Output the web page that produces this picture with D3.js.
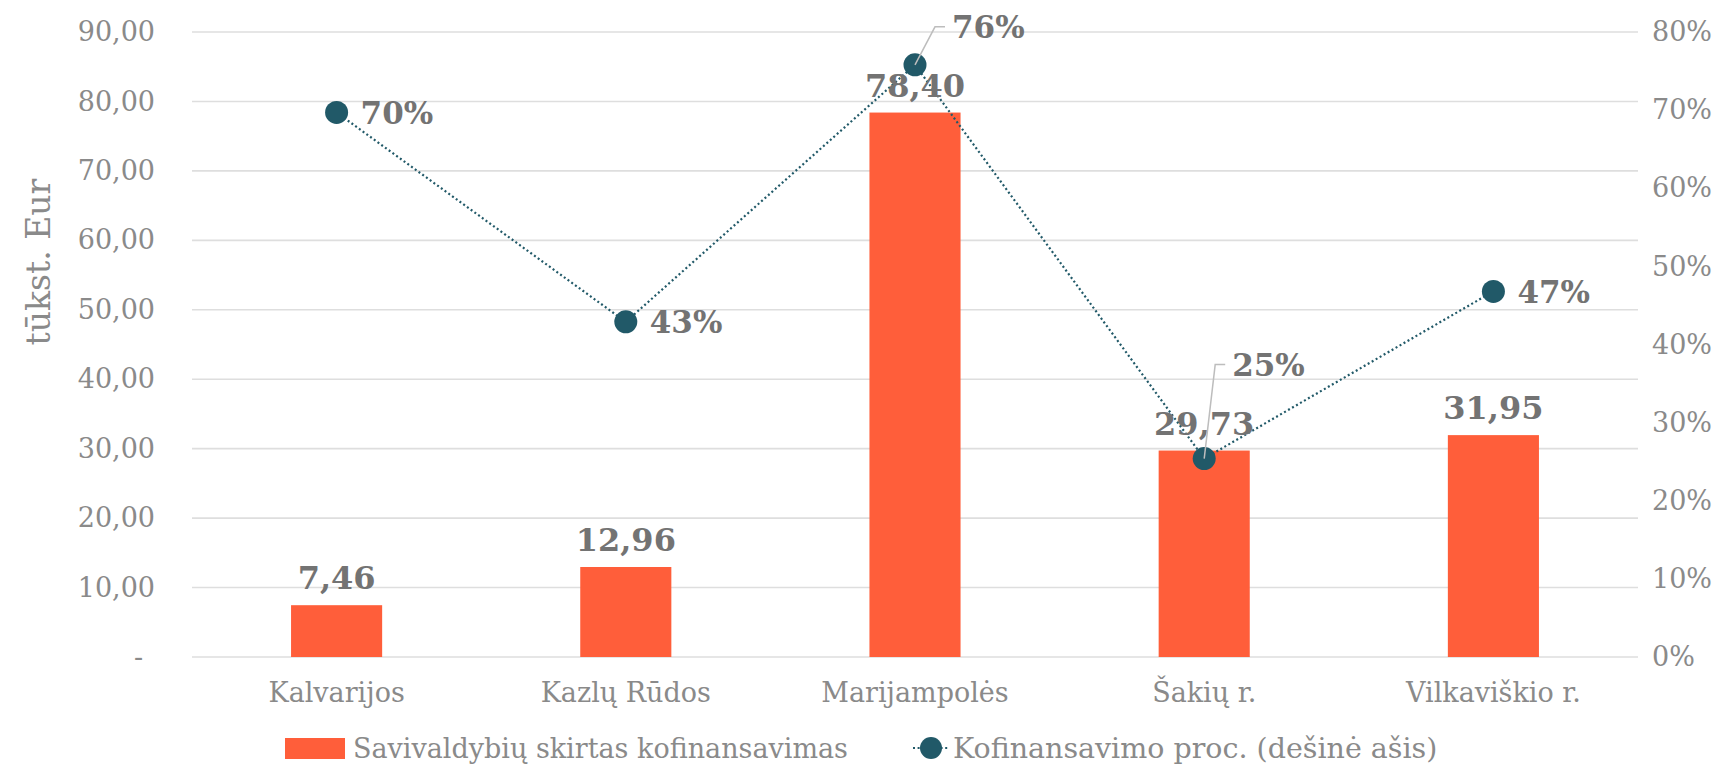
<!DOCTYPE html>
<html><head><meta charset="utf-8">
<script src="https://cdn.jsdelivr.net/npm/d3@7"></script>
<style>
html,body{margin:0;padding:0;background:#fff;}
svg{display:block;font-family:"DejaVu Serif",Georgia,serif;}
</style></head>
<body><svg id="chart" width="1731" height="765"></svg>
<script>
const categories = ["Kalvarijos","Kazlų Rūdos","Marijampolės","Šakių r.","Vilkaviškio r."];
const cofinancing = [7.46, 12.96, 78.40, 29.73, 31.95];
const percent = [0.697, 0.429, 0.758, 0.254, 0.468];
const leftTicks = [0,10,20,30,40,50,60,70,80,90];
const rightTicks = [0,0.1,0.2,0.3,0.4,0.5,0.6,0.7,0.8];
const seriesNames = ["Savivaldybių skirtas kofinansavimas","Kofinansavimo proc. (dešinė ašis)"];
const yTitle = "tūkst. Eur";
const pctLabelMode = ["right","right","callout","callout","right"];

const BAR = "#FF5E3A", DOT = "#215968", GRID = "#dedede", TXT = "#8a8a8a", LBL = "#737373";
const svg = d3.select("#chart");
const L = 192, R = 1638, T = 32, B = 657;

const x = d3.scaleBand().domain(categories).range([L,R]).paddingInner(0.685).paddingOuter(0.3425);
const y = d3.scaleLinear().domain([0,90]).range([B,T]);
const y2 = d3.scaleLinear().domain([0,0.8]).range([B,T]);
const cx = c => x(c) + x.bandwidth()/2;

const fmtNum = v => v === 0 ? "-" : d3.format(".2f")(v).replace(".", ",");
const fmtPct = d3.format(".0%");

// gridlines
svg.append("g").selectAll("line").data(leftTicks).join("line")
  .attr("x1",L).attr("x2",R).attr("y1",d=>y(d)).attr("y2",d=>y(d))
  .attr("stroke",GRID).attr("stroke-width",1.6);

// left axis
const ga = svg.append("g").attr("transform",`translate(155,0)`)
  .call(d3.axisLeft(y).tickValues(leftTicks).tickFormat(fmtNum).tickSize(0).tickPadding(0));
ga.select(".domain").remove();
ga.selectAll("text").attr("font-size",27).attr("fill",TXT).attr("font-family","DejaVu Serif")
  .attr("dx",d=>d===0?-12:0);

// right axis
const gr = svg.append("g").attr("transform",`translate(1652,0)`)
  .call(d3.axisRight(y2).tickValues(rightTicks).tickFormat(fmtPct).tickSize(0).tickPadding(0));
gr.select(".domain").remove();
gr.selectAll("text").attr("font-size",27).attr("fill",TXT).attr("font-family","DejaVu Serif");

// x axis labels
const gx = svg.append("g").attr("transform",`translate(0,${B})`)
  .call(d3.axisBottom(x).tickSize(0).tickPadding(26));
gx.select(".domain").remove();
gx.selectAll("text").attr("font-size",27).attr("fill",TXT).attr("font-family","DejaVu Serif");

// y title
svg.append("text").attr("transform","translate(50,262) rotate(-90)")
  .attr("text-anchor","middle").attr("font-size",33).attr("fill",TXT).text(yTitle);

// bars
svg.append("g").selectAll("rect").data(categories).join("rect")
  .attr("x",c=>x(c)).attr("width",x.bandwidth())
  .attr("y",(c,i)=>y(cofinancing[i])).attr("height",(c,i)=>B-y(cofinancing[i]))
  .attr("fill",BAR);

// line
const line = d3.line().x((d,i)=>cx(categories[i])).y(d=>y2(d));
svg.append("path").datum(percent).attr("d",line).attr("fill","none")
  .attr("stroke",DOT).attr("stroke-width",2.2).attr("stroke-dasharray","2,2.6");

svg.append("g").selectAll("circle").data(percent).join("circle")
  .attr("cx",(d,i)=>cx(categories[i])).attr("cy",d=>y2(d)).attr("r",11.5).attr("fill",DOT);

// bar labels
svg.append("g").selectAll("text").data(cofinancing).join("text")
  .attr("x",(d,i)=>cx(categories[i])).attr("y",d=>y(d)-16)
  .attr("text-anchor","middle").attr("font-size",32).attr("font-weight","bold")
  .attr("fill",LBL).text(d=>fmtNum(d));

// percent labels
const pl = svg.append("g");
percent.forEach((p,i)=>{
  const px = cx(categories[i]), py = y2(p);
  if (pctLabelMode[i] === "right") {
    pl.append("text").attr("x",px+24).attr("y",py).attr("dy","0.36em")
      .attr("font-size",31).attr("font-weight","bold").attr("fill",LBL).text(fmtPct(p));
  } else {
    const up = i===2 ? 38 : 94, over = i===2 ? 20 : 11;
    const ly = py - up;
    pl.append("polyline").attr("points",`${px},${py} ${px+over},${ly} ${px+over+10},${ly}`)
      .attr("fill","none").attr("stroke","#bdbdbd").attr("stroke-width",1.5);
    pl.append("text").attr("x",px+over+17).attr("y",ly).attr("dy","0.36em")
      .attr("font-size",31).attr("font-weight","bold").attr("fill",LBL).text(fmtPct(p));
  }
});

// legend
const lg = svg.append("g");
lg.append("rect").attr("x",285).attr("y",738).attr("width",60).attr("height",21).attr("fill",BAR);
lg.append("text").attr("x",353).attr("y",748).attr("dy","0.36em").attr("font-size",27)
  .attr("fill",TXT).text(seriesNames[0]);
lg.append("line").attr("x1",913).attr("x2",949).attr("y1",748).attr("y2",748)
  .attr("stroke",DOT).attr("stroke-width",2.2).attr("stroke-dasharray","2,2.6");
lg.append("circle").attr("cx",931).attr("cy",748).attr("r",11).attr("fill",DOT);
lg.append("text").attr("x",953).attr("y",748).attr("dy","0.36em").attr("font-size",28.5)
  .attr("fill",TXT).text(seriesNames[1]);
</script></body></html>
